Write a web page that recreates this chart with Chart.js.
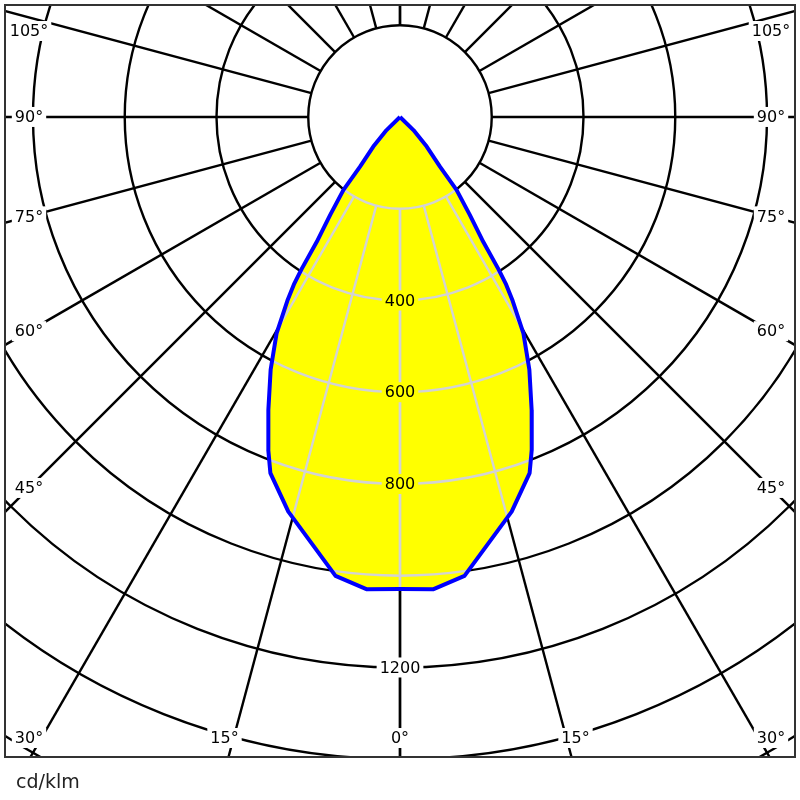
<!DOCTYPE html>
<html>
<head>
<meta charset="utf-8">
<script src="https://cdn.jsdelivr.net/npm/chart.js@4.4.1/dist/chart.umd.min.js"></script>
<style>
  html, body { margin: 0; padding: 0; background: #fff; }
  #wrap { width: 800px; height: 800px; position: relative; }
</style>
</head>
<body>
<div id="wrap"><canvas id="polarChart"></canvas></div>
<script>
// gamma angle (deg from nadir) and intensity (cd/klm) - the curve is symmetric
const gammaAngles = [0, 4, 8, 15.8, 20, 21.6, 24.2, 27.1, 29.7, 31.5, 32.4, 32.9, 33.7, 35.5, 37.8, 38.8, 42, 45.6, 50];
const intensities = [1029, 1032, 1010, 894, 826, 780, 700, 619, 543, 470, 430, 395, 327, 262, 201, 139, 87, 41, 0];

// polar grid
const ringValues = [200, 400, 600, 800, 1000, 1200, 1400, 1600, 1800];
const spokeAngles = [0, 15, 30, 45, 60, 75, 90, 105, 120, 135, 150, 165, 180];

// tick labels
const ringLabels = [400, 600, 800, 1200];
const angleLabels = [0, 15, 30, 45, 60, 75, 90, 105];
const unitLabel = "cd/klm";

const FONT = '16px "DejaVu Sans"';
const rad = d => d * Math.PI / 180;

// build the closed outline: right half from the top down, then the left half back up
const curvePoints = [];
for (let i = gammaAngles.length - 1; i >= 0; i--) {
  curvePoints.push({ x: intensities[i] * Math.sin(rad(gammaAngles[i])), y: -intensities[i] * Math.cos(rad(gammaAngles[i])) });
}
for (let i = 1; i < gammaAngles.length; i++) {
  curvePoints.push({ x: -intensities[i] * Math.sin(rad(gammaAngles[i])), y: -intensities[i] * Math.cos(rad(gammaAngles[i])) });
}

function center(chart) {
  const { x, y } = chart.scales;
  return { cx: x.getPixelForValue(0), cy: y.getPixelForValue(0), k: x.getPixelForValue(1) - x.getPixelForValue(0) };
}

function clipArea(chart) {
  const a = chart.chartArea;
  chart.ctx.beginPath();
  chart.ctx.rect(a.left, a.top, a.right - a.left, a.bottom - a.top);
  chart.ctx.clip();
}

function curvePath(chart) {
  const ctx = chart.ctx;
  const meta = chart.getDatasetMeta(1);
  ctx.beginPath();
  meta.data.forEach((p, i) => (i ? ctx.lineTo(p.x, p.y) : ctx.moveTo(p.x, p.y)));
  ctx.closePath();
}

function drawGrid(chart, color) {
  const ctx = chart.ctx;
  const { cx, cy, k } = center(chart);
  ctx.strokeStyle = color;
  ctx.lineWidth = 2.4;
  ringValues.forEach(v => {
    ctx.beginPath();
    ctx.arc(cx, cy, v * k, 0, Math.PI * 2);
    ctx.stroke();
  });
  const inner = ringValues[0] * k, outer = 4000 * k;
  spokeAngles.forEach(g => {
    [1, -1].forEach(side => {
      const dx = side * Math.sin(rad(g)), dy = Math.cos(rad(g));
      ctx.beginPath();
      ctx.moveTo(cx + dx * inner, cy + dy * inner);
      ctx.lineTo(cx + dx * outer, cy + dy * outer);
      ctx.stroke();
    });
  });
}

function drawLabel(ctx, text, px, py, bg) {
  ctx.font = FONT;
  const w = ctx.measureText(text).width;
  ctx.fillStyle = bg;
  ctx.fillRect(px - w / 2 - 3, py - 10, w + 6, 20);
  ctx.fillStyle = "#000";
  ctx.textAlign = "center";
  ctx.textBaseline = "middle";
  ctx.fillText(text, px, py + 1);
}

const polarGrid = {
  id: "polarGrid",
  beforeDatasetsDraw(chart) {
    const ctx = chart.ctx;
    ctx.save();
    clipArea(chart);
    drawGrid(chart, "#000");
    ctx.restore();
  },
  afterDatasetDraw(chart, args) {
    // grey grid over the yellow area
    if (args.index !== 0) return;
    const ctx = chart.ctx;
    ctx.save();
    clipArea(chart);
    curvePath(chart);
    ctx.clip();
    drawGrid(chart, "#d3d3d3");
    ctx.restore();
  },
  afterDatasetsDraw(chart) {
    const ctx = chart.ctx;
    const a = chart.chartArea;
    const { cx, cy, k } = center(chart);
    ctx.save();

    // intensity labels down the 0 deg line
    ringLabels.forEach(v => {
      const py = cy + v * k;
      curvePath(chart);
      const inside = ctx.isPointInPath(cx, py);
      drawLabel(ctx, String(v), cx, py, inside ? "#ffff00" : "#fff");
    });

    // angle labels where the spokes meet the frame
    const L = a.left + 24, R = a.right - 24, T = a.top + 26, B = a.bottom - 19;
    angleLabels.forEach(g => {
      (g === 0 ? [1] : [-1, 1]).forEach(side => {
        const dx = side * Math.sin(rad(g)), dy = Math.cos(rad(g));
        const tx = Math.abs(dx) > 1e-9 ? ((dx > 0 ? a.right : a.left) - cx) / dx : Infinity;
        const ty = dy > 1e-9 ? (a.bottom - cy) / dy : dy < -1e-9 ? (a.top - cy) / dy : Infinity;
        let px, py;
        if (tx < ty) {
          px = dx > 0 ? R : L;
          py = cy + dy * ((px - cx) / dx);
        } else {
          px = cx + dx * ty + (g === 0 ? 0 : side * 4);
          py = dy > 0 ? B : T;
        }
        py = Math.min(Math.max(py, T), B);
        px = Math.min(Math.max(px, L), R);
        drawLabel(ctx, g + "°", px, py, "#fff");
      });
    });

    // frame
    ctx.strokeStyle = "#333";
    ctx.lineWidth = 2;
    ctx.strokeRect(a.left, a.top, a.right - a.left, a.bottom - a.top);

    // unit
    ctx.fillStyle = "#222";
    ctx.font = '19px "DejaVu Sans"';
    ctx.textAlign = "left";
    ctx.textBaseline = "alphabetic";
    ctx.fillText(unitLabel, 16, 788);
    ctx.restore();
  }
};

new Chart(document.getElementById("polarChart"), {
  type: "scatter",
  data: {
    datasets: [
      {
        label: "fill",
        data: curvePoints,
        showLine: true,
        fill: "shape",
        backgroundColor: "#ffff00",
        borderWidth: 0,
        pointRadius: 0,
        order: 2
      },
      {
        label: "intensity",
        data: curvePoints,
        showLine: true,
        fill: false,
        borderColor: "#0000ff",
        borderWidth: 4,
        borderJoinStyle: "round",
        pointRadius: 0,
        order: 1
      }
    ]
  },
  options: {
    responsive: true,
    maintainAspectRatio: false,
    animation: false,
    events: [],
    layout: { padding: { left: 5, right: 5, top: 5, bottom: 43 } },
    scales: {
      x: { type: "linear", min: -861, max: 861, display: false },
      y: { type: "linear", min: -1395, max: 244, display: false }
    },
    plugins: {
      legend: { display: false },
      tooltip: { enabled: false }
    }
  },
  plugins: [polarGrid]
});
</script>
</body>
</html>
